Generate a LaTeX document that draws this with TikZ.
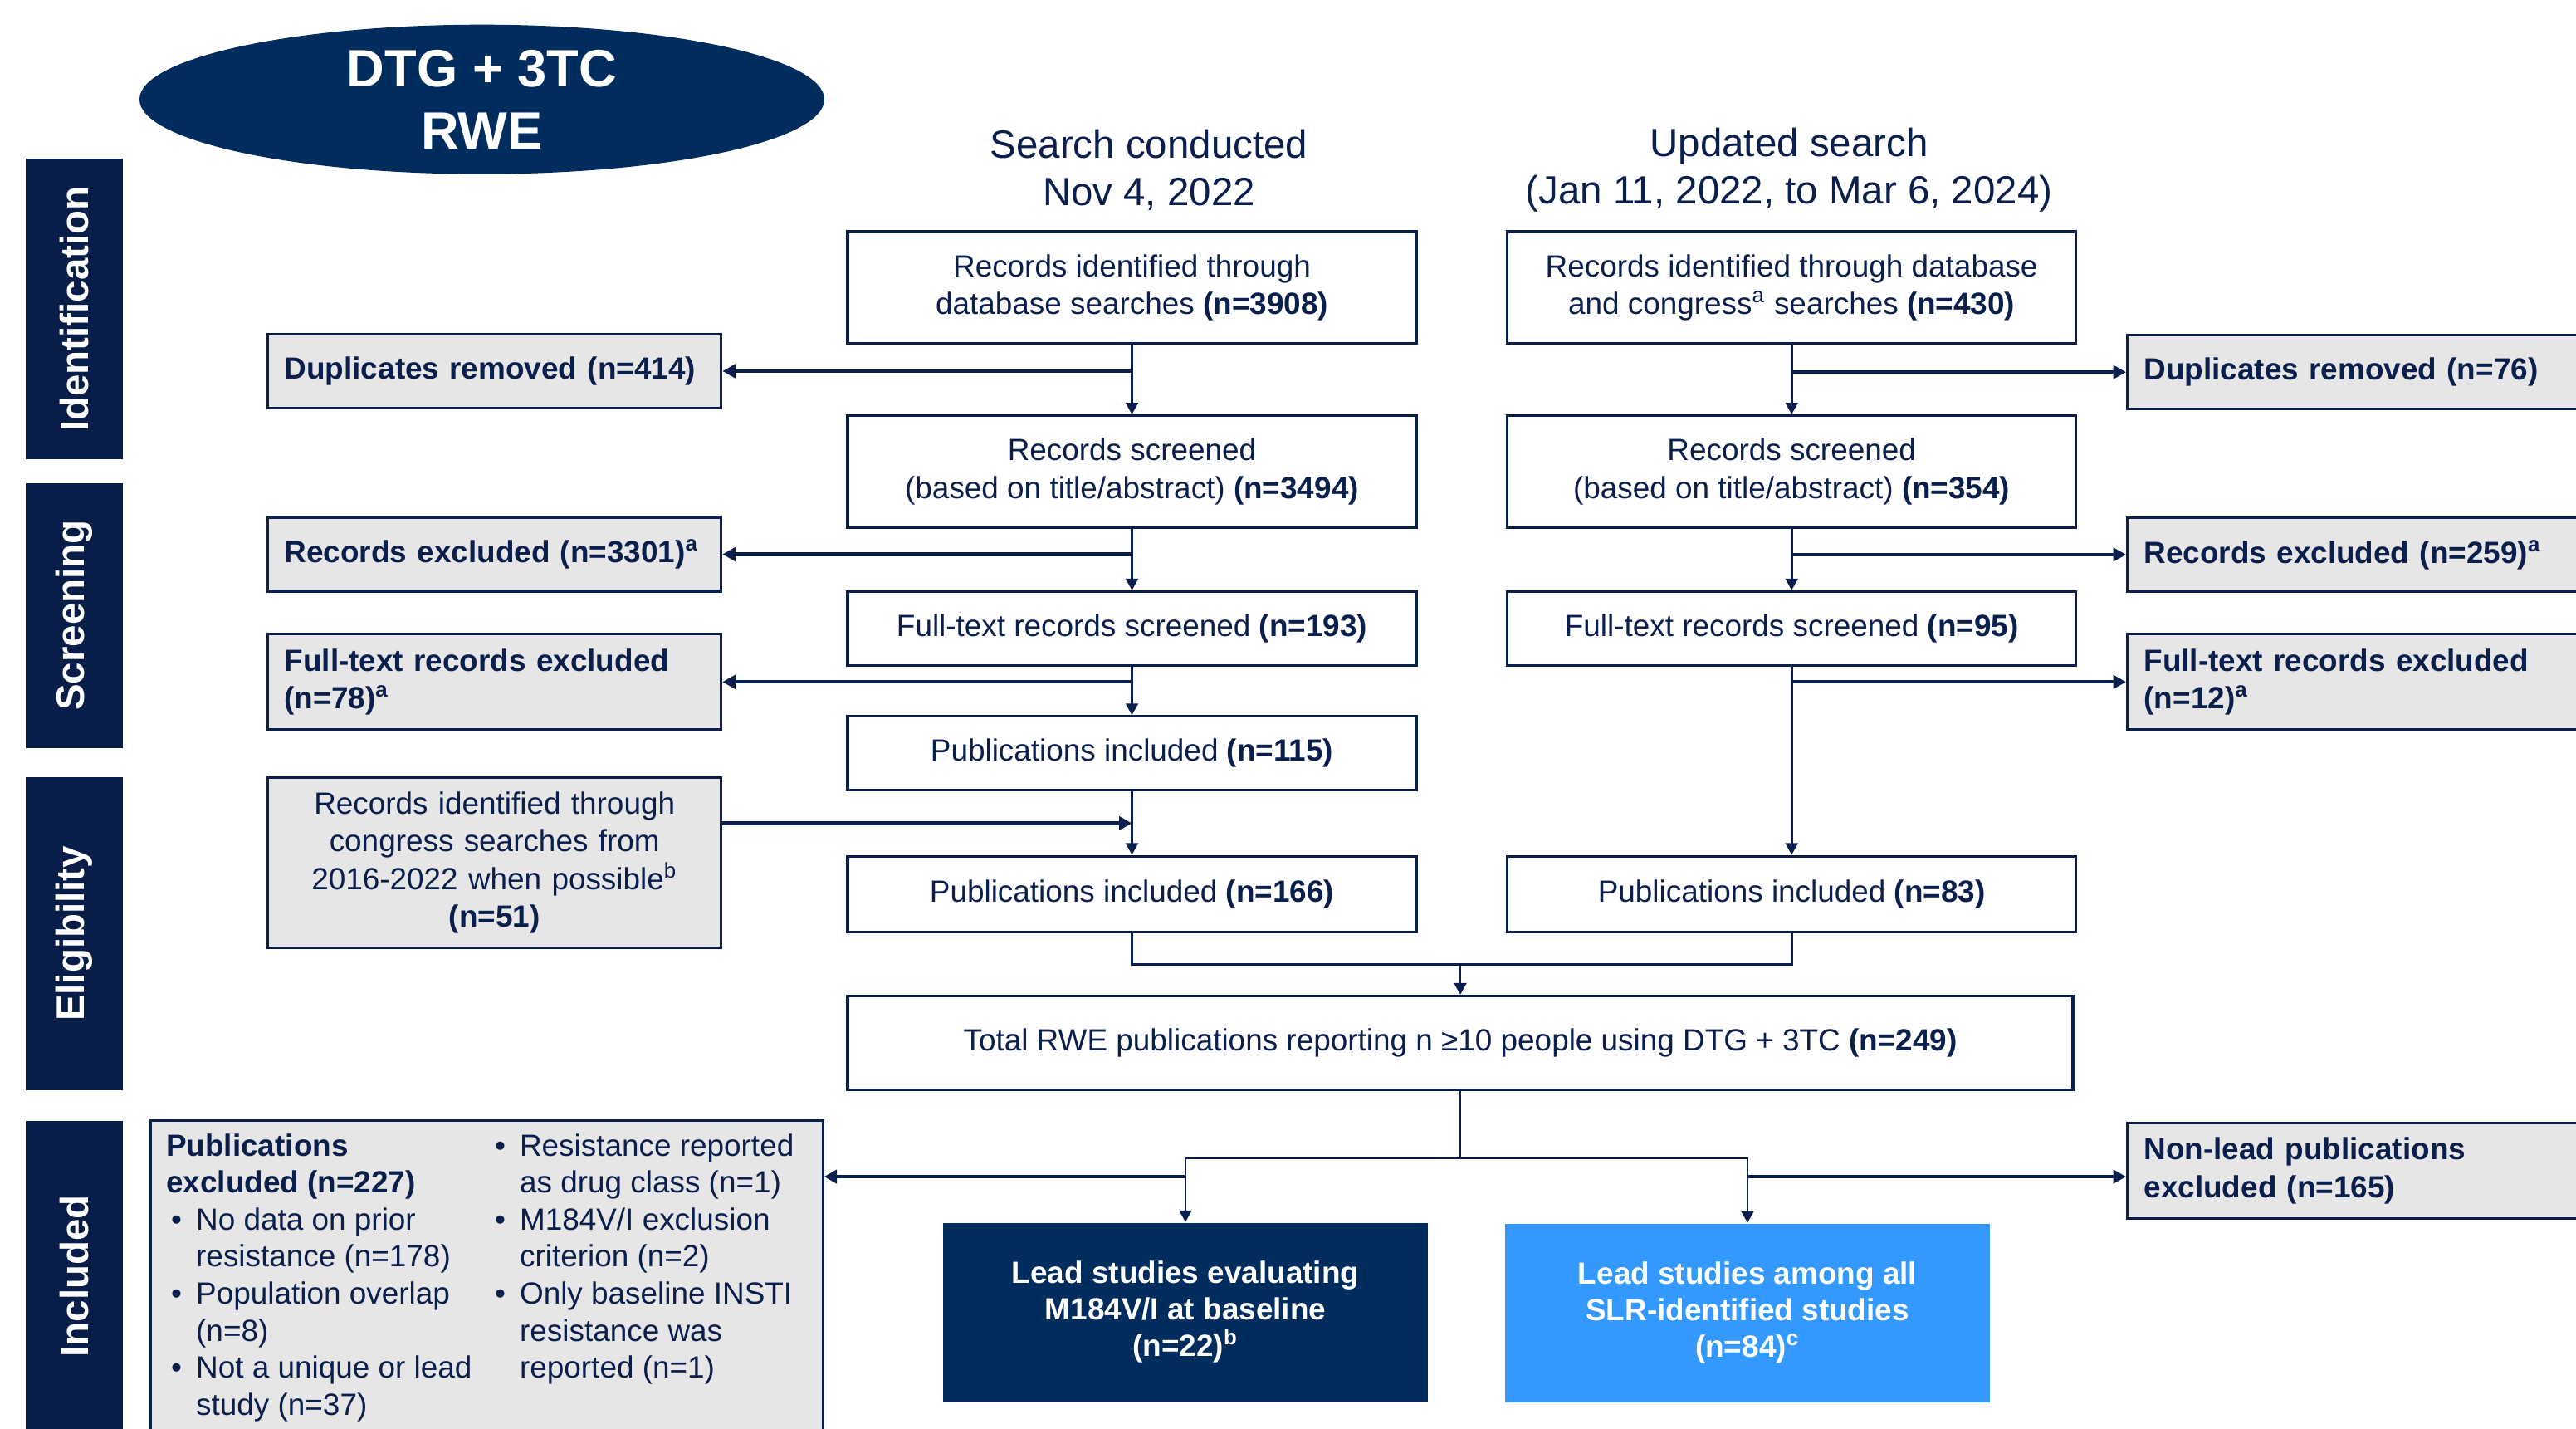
\documentclass[tikz,border=0pt]{standalone}
\usepackage{fontspec}
\setmainfont{Liberation Sans}
\usetikzlibrary{arrows.meta,positioning,calc,shapes.geometric}
\definecolor{navy}{RGB}{11,31,77}
\definecolor{phasenavy}{RGB}{8,30,72}
\definecolor{ovalnavy}{RGB}{0,45,94}
\definecolor{leadblue}{RGB}{51,153,255}
\definecolor{boxgrey}{RGB}{230,230,230}
\newcommand{\boxfont}{\fontsize{10.5}{12.9}\selectfont}
\newcommand{\bul}{\hspace{0.06cm}\textbullet}

\begin{document}
\begin{tikzpicture}[
  mainbox/.style={draw=navy, line width=0.9pt, fill=white, minimum width=6.85cm, minimum height=1.346cm, align=center, text=navy, font=\boxfont, inner sep=2pt},
  exclbox/.style={draw=navy, line width=0.9pt, fill=boxgrey, text width=5.06cm, minimum height=0.89cm, inner xsep=0.2cm, inner ysep=2pt, align=left, text=navy, font=\boxfont\bfseries},
  phasebox/.style={fill=phasenavy, rotate=90, minimum height=1.17cm, inner sep=0pt, text=white, font=\fontsize{13.5}{16}\selectfont\bfseries},
  leadbox/.style={minimum width=5.84cm, minimum height=2.15cm, align=center, text=white, font=\fontsize{10.5}{12.6}\selectfont\bfseries, inner sep=2pt},
  header/.style={align=center, text=navy, font=\fontsize{13.5}{16.3}\selectfont},
  listtext/.style={anchor=base west, inner sep=0pt, text=navy, font=\fontsize{10.5}{12.7}\selectfont},
  link/.style={draw=navy, line width=0.8pt},
  arr/.style={link, -{Triangle[length=4pt,width=4.2pt]}},
  branch/.style={draw=navy, line width=1.2pt, -{Triangle[length=4.4pt,width=4.6pt]}},
]
\clip (0,0) rectangle (31.03,-17.21);

% ===================== Title and phase labels =====================
\node[ellipse, fill=ovalnavy, minimum width=8.25cm, minimum height=1.8cm, inner sep=0pt, align=center, text=white, font=\fontsize{18}{21.3}\selectfont\bfseries] (oval) at (5.805,-1.197) {DTG + 3TC\\RWE};

\node[phasebox, minimum width=3.62cm] (ident) at (0.895,-3.72) {Identification};
\node[phasebox, minimum width=3.19cm] (screen) at (0.895,-7.41) {Screening};
\node[phasebox, minimum width=3.77cm] (elig) at (0.895,-11.245) {Eligibility};
\node[phasebox, minimum width=3.74cm] (incl) at (0.895,-15.37) {Included};

% ===================== Search headers =====================
\node[header] (hdrl) at (13.84,-2.048) {Search conducted\\Nov 4, 2022};
\node[header] (hdrr) at (21.55,-2.048) {Updated search\\(Jan 11, 2022, to Mar 6, 2024)};

% ===================== Main columns =====================
\node[mainbox] (l1) at (13.635,-3.463) {Records identified through\\database searches \textbf{(n=3908)}};
\node[mainbox] (l2) at (13.635,-5.680) {Records screened\\(based on title/abstract) \textbf{(n=3494)}};
\node[mainbox, minimum height=0.89cm] (l3) at (13.635,-7.570) {Full-text records screened \textbf{(n=193)}};
\node[mainbox, minimum height=0.89cm] (l4) at (13.635,-9.074) {Publications included \textbf{(n=115)}};
\node[mainbox, minimum height=0.91cm] (l5) at (13.635,-10.766) {Publications included \textbf{(n=166)}};

\node[mainbox, right=1.065cm of l1] (r1) {Records identified through database\\and congress\textsuperscript{a} searches \textbf{(n=430)}};
\node[mainbox, right=1.065cm of l2] (r2) {Records screened\\(based on title/abstract) \textbf{(n=354)}};
\node[mainbox, minimum height=0.89cm, right=1.065cm of l3] (r3) {Full-text records screened \textbf{(n=95)}};
\node[mainbox, minimum height=0.91cm, right=1.065cm of l5] (r5) {Publications included \textbf{(n=83)}};

\node[mainbox, minimum width=14.76cm, minimum height=1.13cm] (total) at (17.59,-12.56) {Total RWE publications reporting n ≥10 people using DTG + 3TC \textbf{(n=249)}};

% ===================== Exclusion boxes =====================
\node[exclbox] (dupl) at (5.957,-4.47) {Duplicates removed (n=414)};
\node[exclbox] (recexl) at (5.957,-6.675) {Records excluded (n=3301)\textsuperscript{a}};
\node[exclbox, minimum height=1.148cm] (ftexl) at (5.957,-8.213) {Full-text records excluded\\(n=78)\textsuperscript{a}};
\node[exclbox, minimum height=2.058cm, align=center, font=\boxfont] (congr) at (5.957,-10.39) {Records identified through\\congress searches from\\2016-2022 when possible\textsuperscript{b}\\\textbf{(n=51)}};

\node[exclbox, anchor=west] (dupr) at (25.61,-4.482) {Duplicates removed (n=76)};
\node[exclbox, anchor=west] (recexr) at (25.61,-6.679) {Records excluded (n=259)\textsuperscript{a}};
\node[exclbox, anchor=west, minimum height=1.148cm] (ftexr) at (25.61,-8.213) {Full-text records excluded\\(n=12)\textsuperscript{a}};
\node[exclbox, anchor=west, minimum height=1.148cm] (nonlead) at (25.61,-14.1) {Non-lead publications\\excluded (n=165)};

% Publications excluded, two columns of reasons
\node[draw=navy, line width=0.9pt, fill=boxgrey, minimum width=8.094cm, minimum height=3.8cm, anchor=north west, inner sep=0pt] (pubex) at (1.801,-13.477) {};
\node[listtext] (pubexa) at (1.995,-13.92) {\begin{tabular}[t]{@{}p{0.36cm}@{}l@{}}
\multicolumn{2}{@{}l@{}}{\textbf{Publications}}\\
\multicolumn{2}{@{}l@{}}{\textbf{excluded (n=227)}}\\
\bul & No data on prior\\
 & resistance (n=178)\\
\bul & Population overlap\\
 & (n=8)\\
\bul & Not a unique or lead\\
 & study (n=37)
\end{tabular}};
\node[listtext] (pubexb) at (5.894,-13.92) {\begin{tabular}[t]{@{}p{0.36cm}@{}l@{}}
\bul & Resistance reported\\
 & as drug class (n=1)\\
\bul & M184V/I exclusion\\
 & criterion (n=2)\\
\bul & Only baseline INSTI\\
 & resistance was\\
 & reported (n=1)
\end{tabular}};

% ===================== Lead studies =====================
\node[leadbox, fill=ovalnavy] (lead1) at (14.28,-15.80) {Lead studies evaluating\\M184V/I at baseline\\(n=22)\textsuperscript{b}};
\node[leadbox, fill=leadblue] (lead2) at (21.05,-15.81) {Lead studies among all\\SLR-identified studies\\(n=84)\textsuperscript{c}};

% ===================== Connectors =====================
\draw[arr] (l1.south) -- (l2.north);
\draw[branch] (l1.south |- dupl.east) -- (dupl.east);
\draw[arr] (l2.south) -- (l3.north);
\draw[branch] (l2.south |- recexl.east) -- (recexl.east);
\draw[arr] (l3.south) -- (l4.north);
\draw[branch] (l3.south |- ftexl.east) -- (ftexl.east);
\draw[arr] (l4.south) -- (l5.north);
\coordinate (cgr) at ($(congr.north east)+(0,-0.57)$);
\draw[branch] (cgr) -- (cgr -| l4.south);

\draw[arr] (r1.south) -- (r2.north);
\draw[branch] (r1.south |- dupr.west) -- (dupr.west);
\draw[arr] (r2.south) -- (r3.north);
\draw[branch] (r2.south |- recexr.west) -- (recexr.west);
\draw[arr] (r3.south) -- (r5.north);
\draw[branch] (r3.south |- ftexr.west) -- (ftexr.west);

% merge into total
\coordinate (merge) at ($(l5.south)+(0,-0.38)$);
\draw[link] (l5.south) -- (merge) -| (r5.south);
\draw[arr] (merge -| total.north) -- (total.north);

% split into lead studies
\coordinate (split) at ($(total.south)+(0,-0.81)$);
\draw[link] (total.south) -- (split);
\draw[arr] (split) -| (lead1.north);
\draw[arr] (split) -| (lead2.north);
\coordinate (exrow) at ($(split)+(0,-0.22)$);
\draw[branch] (exrow -| lead1.north) -- (exrow -| pubex.east);
\draw[branch] (exrow -| lead2.north) -- (exrow -| nonlead.west);

\end{tikzpicture}
\end{document}
